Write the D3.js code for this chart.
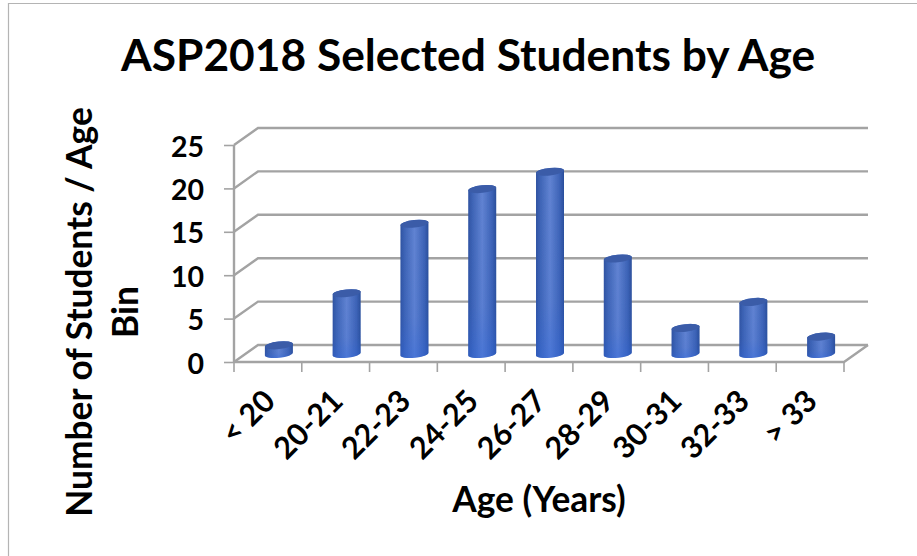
<!DOCTYPE html>
<html><head><meta charset="utf-8">
<script src="https://cdn.jsdelivr.net/npm/d3@7/dist/d3.min.js"></script>
<style>html,body{margin:0;background:#fff}svg{display:block}text{font-family:Lato,"Open Sans",sans-serif;font-weight:700;fill:#000}</style>
</head><body><svg id="c" width="917" height="556"></svg>
<script>
const categories=["< 20","20-21","22-23","24-25","26-27","28-29","30-31","32-33","> 33"];
const students=[1,7,15,19,21,11,3,6,2];
const yTicks=[0,5,10,15,20,25];
const titleText="ASP2018 Selected Students by Age";
const xTitle="Age (Years)";
const yTitleLines=["Number of Students / Age","Bin"];

const svg=d3.select("#c");
const W=917,H=556,dx=24,dy=-17,grey="#a3a3a3";
const x=d3.scaleBand().domain(categories).range([234,844]).padding(0);
const y=d3.scaleLinear().domain([0,25]).range([362,145]);

const defs=svg.append("defs");
const gb=defs.append("linearGradient").attr("id","body");
[[0,"#2f52a0"],[.14,"#3d63b4"],[.5,"#6183d2"],[.85,"#3d63b6"],[1,"#2a4e9a"]].forEach(s=>gb.append("stop").attr("offset",s[0]).attr("stop-color",s[1]));
const gv=defs.append("linearGradient").attr("id","shade").attr("x1",0).attr("x2",0).attr("y1",0).attr("y2",1);
[[0,"#3a66c8",0],[.7,"#2f62d0",.12],[1,"#2f66dc",.45]].forEach(s=>gv.append("stop").attr("offset",s[0]).attr("stop-color",s[1]).attr("stop-opacity",s[2]));
defs.append("filter").attr("id","soft").append("feGaussianBlur").attr("stdDeviation",.45);

svg.append("path").attr("d",`M8.5,${H}V3.5H${W}`).attr("fill","none").attr("stroke","#b4b4b4").attr("stroke-width",1.2);

const plot=svg.append("g").attr("filter","url(#soft)");
const grid=plot.append("g").attr("fill","none").attr("stroke",grey).attr("stroke-width",2.4);
grid.selectAll("path").data(yTicks).join("path")
  .attr("d",v=>`M${x.range()[0]},${y(v)}L${x.range()[0]+dx},${y(v)+dy}H${x.range()[1]+dx}`);
grid.append("path").attr("d",`M${x.range()[0]},${y(0)}H${x.range()[1]}L${x.range()[1]+dx},${y(0)+dy}`);
grid.append("path").attr("d",`M${x.range()[0]},${y(25)}V${y(0)}`);

const edges=categories.map(c=>x(c)).concat(x.range()[1]);
plot.append("g").attr("stroke",grey).attr("stroke-width",1.6).selectAll("line").data(edges).join("line")
  .attr("x1",d=>d).attr("x2",d=>d).attr("y1",y(0)).attr("y2",y(0)+10);

const barRx=14, barRy=3.8, tilt=1.46;
const barBase=y(0)-8;
const barTop=v=>barBase+y(v)-y(0);
const cx=c=>x(c)+x.bandwidth()/2+11;
const bars=plot.append("g").selectAll("g").data(categories).join("g");
const shape=(c,i)=>{const X=cx(c),b=barBase,t=barTop(students[i]);
  return `M${X-barRx},${t+tilt}L${X-barRx},${b+tilt}A${barRx},${barRy} -6 0 0 ${X+barRx},${b-tilt}L${X+barRx},${t-tilt}A${barRx},${barRy} -6 0 0 ${X-barRx},${t+tilt}Z`;};
bars.append("path").attr("d",shape).attr("fill","url(#body)");
bars.append("path").attr("d",shape).attr("fill","url(#shade)");
bars.append("ellipse").attr("cx",cx).attr("cy",(c,i)=>barTop(students[i])).attr("rx",barRx).attr("ry",barRy)
  .attr("transform",(c,i)=>`rotate(-6 ${cx(c)} ${barTop(students[i])})`).attr("fill","#3a5ca8");

const yAxis=d3.axisLeft(y).tickValues(yTicks).tickSize(10).tickPadding(20);
const yG=svg.append("g").attr("transform","translate(234,0)").call(yAxis);
yG.select(".domain").remove();
yG.selectAll("line").attr("stroke",grey).attr("stroke-width",1.6);
yG.selectAll("text").attr("font-size",28.5).attr("font-family",null).attr("y",2);

const xAxis=d3.axisBottom(x).tickSize(0).tickPadding(0);
const xG=svg.append("g").attr("transform","translate(0,362)").call(xAxis);
xG.select(".domain").remove();
xG.selectAll("text").attr("font-size",30.5).attr("font-family",null).attr("text-anchor","end").attr("dy",0)
  .attr("y",0).attr("transform","translate(9,41) rotate(-45)");

svg.append("text").attr("x",468).attr("y",71).attr("text-anchor","middle").attr("font-size",44.3).text(titleText);
svg.append("text").attr("x",539).attr("y",512).attr("text-anchor","middle").attr("font-size",35.3).text(xTitle);
svg.selectAll("text.yt").data(yTitleLines).join("text").attr("class","yt").attr("font-size",35.3).attr("text-anchor","middle")
  .attr("transform",(d,i)=>`translate(${92+i*46},${312}) rotate(-90)`).text(d=>d);
</script></body></html>
